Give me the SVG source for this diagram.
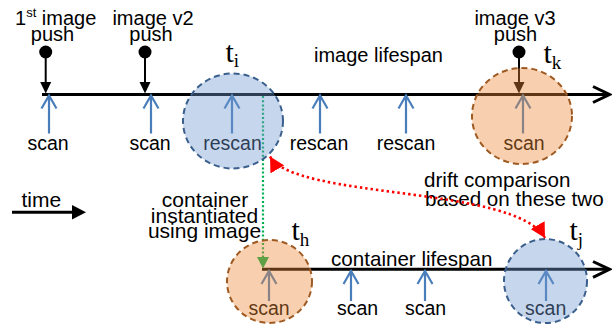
<svg xmlns="http://www.w3.org/2000/svg" xmlns:xlink="http://www.w3.org/1999/xlink" width="612" height="324" viewBox="0 0 612 324">
<style>
  text { font-family: "Liberation Sans", Arial, sans-serif; fill: #000; }
  .lbl { font-size: 20px; }
  .big { font-size: 21px; }
  .mid { font-size: 20.6px; }
  .scan { font-size: 19.5px; text-anchor: middle; }
  .c { text-anchor: middle; }
  .tl { font-family: "Liberation Serif", "Times New Roman", serif; font-size: 30px; }
  .sub { font-size: 19px; }
  .axis { stroke: #000; stroke-width: 3; fill: none; }
  .chev { stroke: #000; stroke-width: 3; fill: none; stroke-linejoin: miter; }
  .sa { stroke: #4a7ebb; stroke-width: 2.2; fill: none; }
  .push line { stroke: #000; stroke-width: 2; }
  .push circle, .push path { fill: #000; }
  .blue { fill: #7099cf; fill-opacity: 0.4; stroke: #3a5f8c; stroke-width: 2; stroke-dasharray: 6 4; }
  .orange { fill: #ee8937; fill-opacity: 0.4; stroke: #9e5a22; stroke-width: 2; stroke-dasharray: 6 4; }
  .green { stroke: #00b050; stroke-width: 2.2; stroke-dasharray: 2 2.2; fill: none; }
  .red { stroke: #ff0000; stroke-width: 2.6; stroke-dasharray: 2.4 3; fill: none; }
</style>
<defs>
  <path id="scanTop" d="M0,0 V38 M-7.5,13 L0,0 L7.5,13"/>
  <path id="scanBot" d="M0,0 V30 M-7.5,13 L0,0 L7.5,13"/>
  <marker id="redHead" markerUnits="userSpaceOnUse" markerWidth="16" markerHeight="16" refX="13" refY="7" orient="auto-start-reverse" viewBox="0 0 14 14">
    <path d="M0,0 L13,7 L0,14 Z" fill="#ff0000"/>
  </marker>
</defs>

<g id="connectors">
  <line class="axis" x1="42" y1="94.5" x2="608" y2="94.5"/>
  <path class="chev" d="M593,86.5 L609.5,94.5 L593,102.5"/>
  <line class="axis" x1="262" y1="269.3" x2="608" y2="269.3"/>
  <path class="chev" d="M593,261.5 L609.5,269.3 L593,277.3"/>
  <line class="axis" x1="12" y1="212.3" x2="74" y2="212.3"/>
  <path d="M72,205 L86,212.3 L72,219.6 Z" fill="#000"/>
  <line class="green" x1="263" y1="96" x2="263" y2="258"/>
  <path d="M257,257 L269,257 L263,268.5 Z" fill="#00b050"/>
</g>

<g id="push-1" class="push">
  <circle cx="45.7" cy="52" r="6.5"/>
  <line x1="45.7" y1="52" x2="45.7" y2="84"/>
  <path d="M40.2,82 L51.2,82 L45.7,93.5 Z"/>
  <text class="lbl" x="15" y="25">1<tspan font-size="13" dy="-8">st</tspan><tspan dy="8"> image</tspan></text>
  <text class="lbl c" x="52.5" y="41">push</text>
</g>
<g id="push-2" class="push">
  <circle cx="145" cy="52" r="6.5"/>
  <line x1="145" y1="52" x2="145" y2="84"/>
  <path d="M139.5,82 L150.5,82 L145,93.5 Z"/>
  <text class="lbl c" x="153" y="25">image v2</text>
  <text class="lbl c" x="151" y="41">push</text>
</g>
<g id="push-3" class="push">
  <circle cx="519" cy="52" r="6.5"/>
  <line x1="519" y1="52" x2="519" y2="84"/>
  <path d="M513.5,82 L524.5,82 L519,93.5 Z"/>
  <text class="lbl c" x="515" y="25">image v3</text>
  <text class="lbl c" x="515.5" y="41">push</text>
</g>

<g id="image-scans">
  <use xlink:href="#scanTop" href="#scanTop" class="sa" x="49" y="95.5"/>
  <use xlink:href="#scanTop" href="#scanTop" class="sa" x="151" y="95.5"/>
  <use xlink:href="#scanTop" href="#scanTop" class="sa" x="232" y="95.5"/>
  <use xlink:href="#scanTop" href="#scanTop" class="sa" x="320" y="95.5"/>
  <use xlink:href="#scanTop" href="#scanTop" class="sa" x="406" y="95.5"/>
  <use xlink:href="#scanTop" href="#scanTop" class="sa" x="523" y="95.5"/>
  <text class="scan" x="48" y="150">scan</text>
  <text class="scan" x="150" y="150">scan</text>
  <text class="scan" x="232.5" y="150">rescan</text>
  <text class="scan" x="319" y="150">rescan</text>
  <text class="scan" x="406" y="150">rescan</text>
  <text class="scan" x="524" y="150">scan</text>
</g>

<g id="container-scans">
  <use xlink:href="#scanBot" href="#scanBot" class="sa" x="269" y="271"/>
  <use xlink:href="#scanBot" href="#scanBot" class="sa" x="351" y="271"/>
  <use xlink:href="#scanBot" href="#scanBot" class="sa" x="425" y="271"/>
  <use xlink:href="#scanBot" href="#scanBot" class="sa" x="546" y="271"/>
  <text class="scan" x="269" y="315">scan</text>
  <text class="scan" x="357.5" y="315">scan</text>
  <text class="scan" x="425.5" y="315">scan</text>
  <text class="scan" x="545.7" y="315">scan</text>
</g>

<g id="labels">
  <text class="lbl" x="314" y="62">image lifespan</text>
  <text class="mid" x="331" y="266">container lifespan</text>
  <text class="big" x="21.5" y="207">time</text>
  <text class="big c" x="205" y="207">container</text>
  <text class="big c" x="204.5" y="222.5">instantiated</text>
  <text class="big c" x="204.5" y="238">using image</text>
  <text class="mid" x="424" y="187">drift comparison</text>
  <text class="mid" x="425" y="205.5">based on these two</text>
</g>

<g id="node-ti">
  <ellipse class="blue" cx="233" cy="121" rx="50" ry="47.5"/>
  <text class="tl" x="225.5" y="62">t<tspan class="sub" dy="5">i</tspan></text>
</g>
<g id="node-tk">
  <ellipse class="orange" cx="522" cy="116" rx="50" ry="48"/>
  <text class="tl" x="543.5" y="63">t<tspan class="sub" dy="6">k</tspan></text>
</g>
<g id="node-th">
  <ellipse class="orange" cx="269.5" cy="281.5" rx="42.5" ry="41.5"/>
  <text class="tl" x="291.5" y="240">t<tspan class="sub" dy="6">h</tspan></text>
</g>
<g id="node-tj">
  <ellipse class="blue" cx="545.5" cy="281" rx="41.5" ry="42"/>
  <text class="tl" x="569.5" y="240">t<tspan class="sub" dy="6">j</tspan></text>
</g>

<g id="drift-connector">
  <path class="red" d="M270,156.5 C295,200 515,185 545,238" marker-start="url(#redHead)" marker-end="url(#redHead)"/>
</g>
</svg>
